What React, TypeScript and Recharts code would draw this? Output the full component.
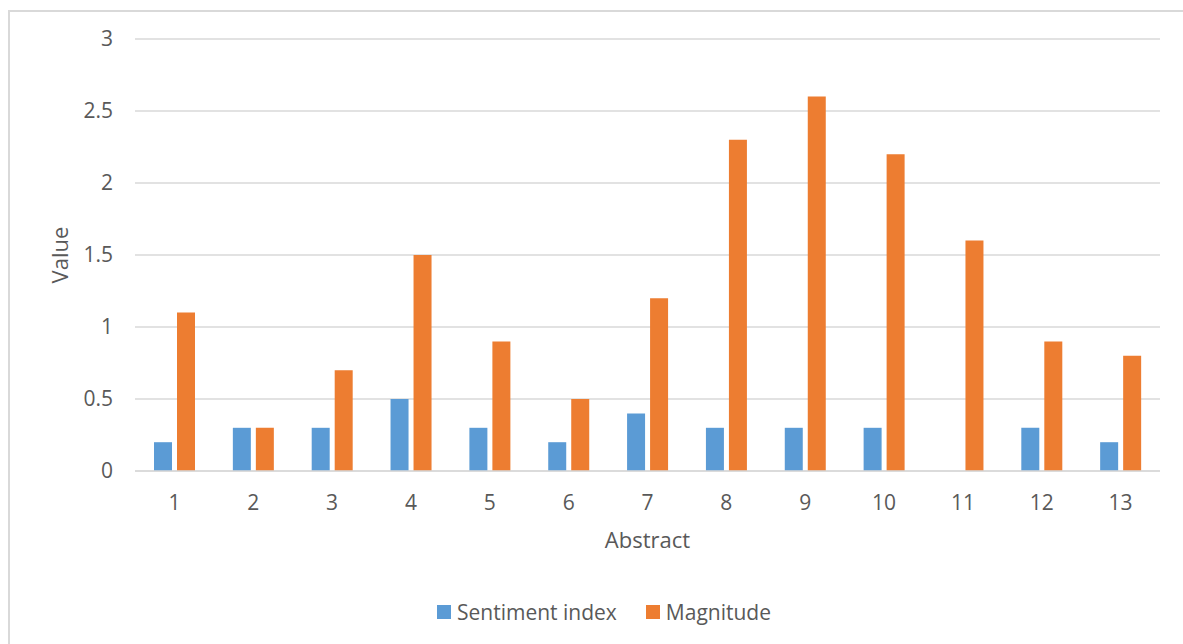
import React from "react";
import { BarChart, Bar, XAxis, YAxis, CartesianGrid, Legend } from "recharts";

const categories = ["1", "2", "3", "4", "5", "6", "7", "8", "9", "10", "11", "12", "13"];
const sentimentIndex = [0.2, 0.3, 0.3, 0.5, 0.3, 0.2, 0.4, 0.3, 0.3, 0.3, 0, 0.3, 0.2];
const magnitude = [1.1, 0.3, 0.7, 1.5, 0.9, 0.5, 1.2, 2.3, 2.6, 2.2, 1.6, 0.9, 0.8];
const yTicks = [0, 0.5, 1, 1.5, 2, 2.5, 3];

const seriesNames = { sentiment: "Sentiment index", magnitude: "Magnitude" };
const colors = { sentiment: "#5B9BD5", magnitude: "#ED7D31" };

const data = categories.map((c, i) => ({
  name: c,
  sentiment: sentimentIndex[i],
  magnitude: magnitude[i],
}));

const FONT = "'Open Sans', sans-serif";
const TEXT = "#595959";

const LegendContent = () => (
  <div style={{ display: "flex", alignItems: "center", fontFamily: FONT, fontSize: 21, color: TEXT, whiteSpace: "nowrap" }}>
    {(["sentiment", "magnitude"] as const).map((k, i) => (
      <div key={k} style={{ display: "flex", alignItems: "center", marginRight: i === 0 ? 29 : 0 }}>
        <div style={{ width: 14, height: 14, background: colors[k], marginRight: 6 }} />
        <span>{seriesNames[k]}</span>
      </div>
    ))}
  </div>
);

export default function App() {
  return (
    <div style={{ position: "fixed", left: 0, top: 0, width: 1183, height: 644, overflow: "hidden", background: "#fff" }}>
      <div
        style={{
          position: "absolute",
          left: 8,
          top: 10,
          right: 0,
          bottom: 0,
          borderLeft: "2px solid #d9d9d9",
          borderTop: "2px solid #d9d9d9",
        }}
      />
      <div style={{ position: "absolute", left: 0, top: 0 }}>
        <BarChart
          width={1183}
          height={644}
          data={data}
          margin={{ top: 39, right: 23, left: 0, bottom: 83 }}
          barSize={18}
          barGap={5}
        >
          <CartesianGrid vertical={false} stroke="#d9d9d9" strokeWidth={1.4} />
          <XAxis
            dataKey="name"
            height={90}
            tickLine={false}
            tickSize={0}
            tickMargin={24}
            axisLine={{ stroke: "#d9d9d9", strokeWidth: 1.4 }}
            tick={{ fill: TEXT, fontSize: 21, fontFamily: FONT }}
            label={{
              value: "Abstract",
              position: "insideBottom",
              offset: 13,
              style: { fill: TEXT, fontSize: 22, fontFamily: FONT },
            }}
          />
          <YAxis
            width={135}
            domain={[0, 3]}
            ticks={yTicks}
            axisLine={false}
            tickLine={false}
            tickSize={0}
            tickMargin={22}
            tick={{ fill: TEXT, fontSize: 21, fontFamily: FONT }}
            label={{
              value: "Value",
              angle: -90,
              position: "insideLeft",
              offset: 60,
              style: { fill: TEXT, fontSize: 22, fontFamily: FONT, textAnchor: "middle" },
            }}
          />
          <Legend
            layout="horizontal"
            verticalAlign="middle"
            align="center"
            wrapperStyle={{ top: 598, left: 437, width: 500 }}
            content={<LegendContent />}
          />
          <Bar dataKey="sentiment" name={seriesNames.sentiment} fill={colors.sentiment} isAnimationActive={false} />
          <Bar dataKey="magnitude" name={seriesNames.magnitude} fill={colors.magnitude} isAnimationActive={false} />
        </BarChart>
      </div>
    </div>
  );
}
